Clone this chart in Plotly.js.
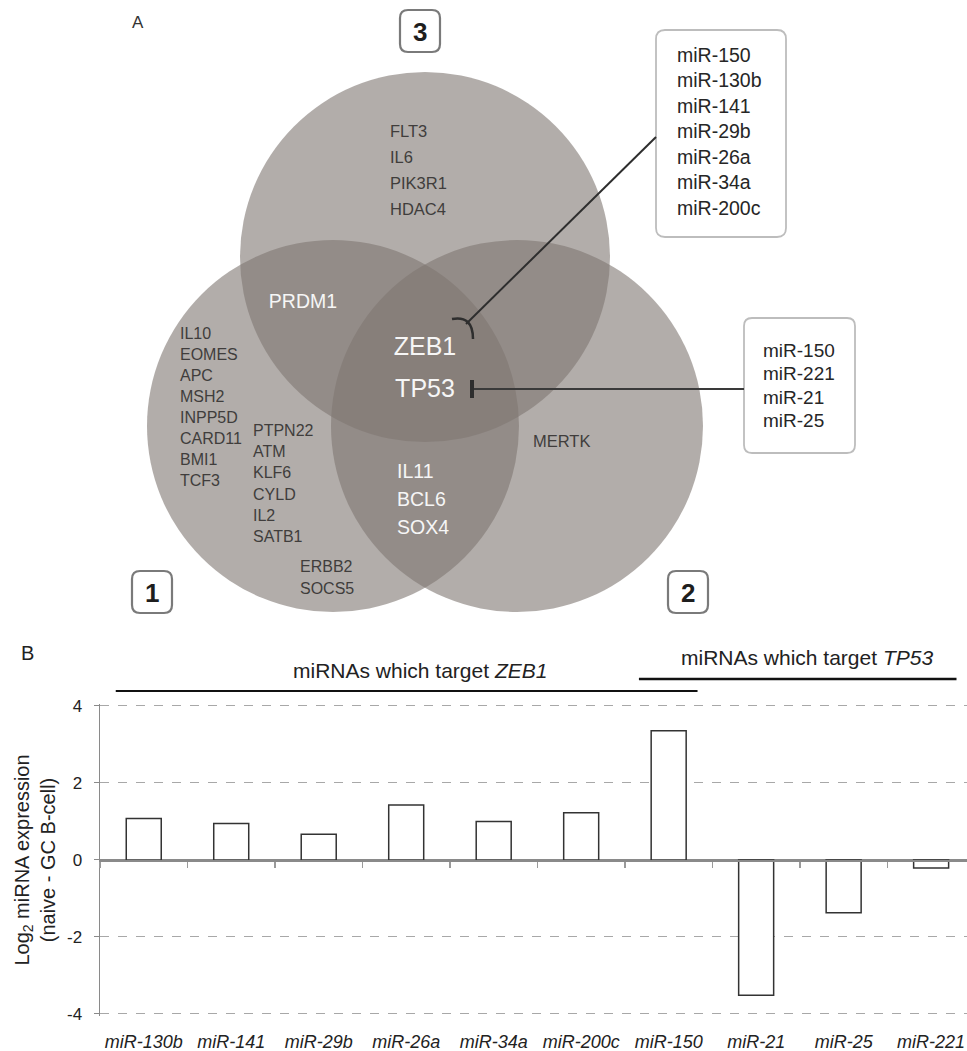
<!DOCTYPE html>
<html>
<head>
<meta charset="utf-8">
<script src="https://cdn.plot.ly/plotly-3.0.1.min.js"></script>
<style>html,body{margin:0;padding:0;background:#fff}#chart{width:967px;height:1051px}</style>
</head>
<body>
<div id="chart"></div>
<script>
// ---------- Data: panel B ----------
const mirnas = ["miR-130b","miR-141","miR-29b","miR-26a","miR-34a","miR-200c","miR-150","miR-21","miR-25","miR-221"];
const log2Expr = [1.08, 0.95, 0.67, 1.43, 1.00, 1.23, 3.36, -3.51, -1.37, -0.21];
const yTickVals = [-4, -2, 0, 2, 4];
const yTickText = ["-4", "-2", "0", "2", "4"];

// ---------- Data: panel A (Venn) ----------
const setLabels = ["1", "2", "3"];
const only3 = ["FLT3", "IL6", "PIK3R1", "HDAC4"];
const set1and3 = ["PRDM1"];
const only1a = ["IL10", "EOMES", "APC", "MSH2", "INPP5D", "CARD11", "BMI1", "TCF3"];
const only1b = ["PTPN22", "ATM", "KLF6", "CYLD", "IL2", "SATB1"];
const only1c = ["ERBB2", "SOCS5"];
const allThree = ["ZEB1", "TP53"];
const set1and2 = ["IL11", "BCL6", "SOX4"];
const only2 = ["MERTK"];
const zeb1Mirs = ["miR-150", "miR-130b", "miR-141", "miR-29b", "miR-26a", "miR-34a", "miR-200c"];
const tp53Mirs = ["miR-150", "miR-221", "miR-21", "miR-25"];

const FONT = "Liberation Sans, Arial, Helvetica, sans-serif";
const W = 967, H = 1051;
const dark = "#403d3c", light = "#f6f6f6";

// Venn gene label groups (layout positions in pixel space of the hidden Venn axes)
const groups = [
  {genes: only3,   x: 390, y: 133, dy: 26, pos: "middle right",  color: dark,  size: 16.5},
  {genes: set1and3,x: 303, y: 303, dy: 0,  pos: "middle center", color: light, size: 19.5},
  {genes: only1a,  x: 180, y: 335, dy: 21, pos: "middle right",  color: dark,  size: 16},
  {genes: only1b,  x: 253, y: 432, dy: 21.2, pos: "middle right", color: dark, size: 16},
  {genes: only1c,  x: 300, y: 568, dy: 21.5, pos: "middle right", color: dark, size: 16},
  {genes: allThree,x: 425, y: 349, dy: 42, pos: "middle center", color: light, size: 25},
  {genes: set1and2,x: 397, y: 473, dy: 28, pos: "middle right",  color: light, size: 19.5},
  {genes: only2,   x: 533, y: 443, dy: 0,  pos: "middle right",  color: dark,  size: 16.5},
  {genes: zeb1Mirs,x: 677, y: 57,  dy: 25.5, pos: "middle right", color: "#262626", size: 19.5},
  {genes: tp53Mirs,x: 763, y: 352, dy: 23.5, pos: "middle right", color: "#262626", size: 19}
];
const gx = [], gy = [], gt = [], gp = [], gc = [], gs = [];
groups.forEach(g => g.genes.forEach((name, i) => {
  gx.push(g.x); gy.push(g.y + i * g.dy); gt.push(name); gp.push(g.pos); gc.push(g.color); gs.push(g.size);
}));

function roundRect(x0, y0, x1, y1, r) {
  return `M ${x0 + r} ${y0} L ${x1 - r} ${y0} Q ${x1} ${y0} ${x1} ${y0 + r} L ${x1} ${y1 - r} Q ${x1} ${y1} ${x1 - r} ${y1} ` +
         `L ${x0 + r} ${y1} Q ${x0} ${y1} ${x0} ${y1 - r} L ${x0} ${y0 + r} Q ${x0} ${y0} ${x0 + r} ${y0} Z`;
}

// Bar plot geometry: 38.5 px per unit, zero at 860 px
const pad = 0.05;
const yRange = [-4 - pad, 4 + pad];
const pxPerUnit = 38.5, zeroPx = 860;
const yDom = [(H - (zeroPx + (4 + pad) * pxPerUnit)) / H, (H - (zeroPx - (4 + pad) * pxPerUnit)) / H];
const yMid = (yDom[0] + yDom[1]) / 2;
const xRange = [-0.5, 9.41];

const traces = [
  {
    type: "bar", x: mirnas, y: log2Expr, xaxis: "x", yaxis: "y", width: 0.4,
    marker: {color: "#ffffff", line: {color: "#333333", width: 1.5}},
    hoverinfo: "x+y", showlegend: false
  },
  {
    type: "scatter", x: mirnas, y: log2Expr, xaxis: "x2", yaxis: "y", mode: "none",
    hoverinfo: "skip", showlegend: false
  },
  {
    type: "scatter", x: gx, y: gy, text: gt, xaxis: "x3", yaxis: "y3", mode: "text",
    textposition: gp, textfont: {family: FONT, color: gc, size: gs},
    hoverinfo: "skip", showlegend: false, cliponaxis: false
  }
];

// Venn circles (pixel space of hidden axes)
const circ = [
  {cx: 333, cy: 426, r: 186},
  {cx: 517, cy: 426, r: 186},
  {cx: 425, cy: 257, r: 185}
];
const shapes = circ.map(c => ({
  type: "circle", xref: "x3", yref: "y3", layer: "below",
  x0: c.cx - c.r, x1: c.cx + c.r, y0: c.cy - c.r, y1: c.cy + c.r,
  fillcolor: "rgba(126,119,114,0.6)", line: {width: 0}
}));
// Set number boxes
const boxes = [{cx: 152, cy: 592}, {cx: 688, cy: 592}, {cx: 420, cy: 31}];
boxes.forEach(b => shapes.push({
  type: "path", xref: "x3", yref: "y3", path: roundRect(b.cx - 20, b.cy - 21, b.cx + 20, b.cy + 21, 8),
  line: {color: "#7a7a7a", width: 2.2}, fillcolor: "#ffffff"
}));
// Callout boxes
shapes.push({type: "path", xref: "x3", yref: "y3", path: roundRect(656, 30, 786, 237, 9),
  line: {color: "#bdbdbd", width: 1.8}, fillcolor: "rgba(255,255,255,0)"});
shapes.push({type: "path", xref: "x3", yref: "y3", path: roundRect(744, 318, 855, 453, 8),
  line: {color: "#bdbdbd", width: 1.8}, fillcolor: "rgba(255,255,255,0)"});
// Inhibition connectors
shapes.push({type: "line", xref: "x3", yref: "y3", x0: 656, y0: 137, x1: 466, y1: 324, line: {color: "#2e2e2e", width: 2}});
shapes.push({type: "path", xref: "x3", yref: "y3", path: "M 452 319 Q 473 315 473 339", line: {color: "#2e2e2e", width: 2.5}});
shapes.push({type: "line", xref: "x3", yref: "y3", x0: 744, y0: 389, x1: 472, y1: 389, line: {color: "#3a3a3a", width: 2}});
shapes.push({type: "line", xref: "x3", yref: "y3", x0: 472, y0: 380, x1: 472, y1: 398, line: {color: "#2e2e2e", width: 4}});
// Group bars above panel B
shapes.push({type: "line", xref: "x", yref: "paper", x0: -0.32, x1: 6.33, y0: (H - 691) / H, y1: (H - 691) / H, line: {color: "#111", width: 2}});
shapes.push({type: "line", xref: "x", yref: "paper", x0: 5.66, x1: 9.29, y0: (H - 679) / H, y1: (H - 679) / H, line: {color: "#111", width: 2.5}});

const annotations = [
  ...boxes.map((b, i) => ({
    xref: "x3", yref: "y3", x: b.cx, y: b.cy + 1, text: "<b>" + setLabels[i] + "</b>", showarrow: false,
    font: {family: FONT, size: 26, color: "#1e1e1e"}, xanchor: "center", yanchor: "middle"
  })),
  {xref: "x3", yref: "y3", x: 138, y: 22, text: "A", showarrow: false, font: {family: FONT, size: 17, color: "#333"}},
  {xref: "paper", yref: "paper", x: 19 / W, y: (H - 653) / H, text: "B", showarrow: false, font: {family: FONT, size: 20, color: "#222"}},
  {xref: "x", yref: "paper", x: 3.16, y: (H - 670) / H, text: "miRNAs which target <i>ZEB1</i>", showarrow: false,
   font: {family: FONT, size: 21, color: "#222"}, xanchor: "center", yanchor: "middle"},
  {xref: "x", yref: "paper", x: 7.58, y: (H - 657) / H, text: "miRNAs which target <i>TP53</i>", showarrow: false,
   font: {family: FONT, size: 21, color: "#222"}, xanchor: "center", yanchor: "middle"}
];

const layout = {
  width: W, height: H, margin: {l: 0, r: 0, t: 0, b: 0, autoexpand: false},
  paper_bgcolor: "#ffffff", plot_bgcolor: "rgba(0,0,0,0)", showlegend: false,
  font: {family: FONT, color: "#333"},
  xaxis: {
    domain: [100 / W, 1], anchor: "y", type: "category", range: xRange,
    showline: false, ticks: "", showgrid: false, zeroline: false,
    tickfont: {family: FONT, size: 18, style: "italic", color: "#222"}, ticklabelstandoff: 13
  },
  xaxis2: {
    overlaying: "x", anchor: "free", position: yMid, type: "category",
    categoryorder: "array", categoryarray: mirnas, range: xRange,
    showline: true, linecolor: "#8a8a8a", linewidth: 1.5, ticks: "outside", tickson: "boundaries",
    ticklen: 6, tickcolor: "#9a9a9a", tickwidth: 1.5, showticklabels: false, showgrid: false, zeroline: false
  },
  yaxis: {
    domain: yDom, anchor: "x", range: yRange, tickvals: yTickVals, ticktext: yTickText,
    showline: true, linecolor: "#8a8a8a", linewidth: 1.5, ticks: "outside", ticklen: 5, tickcolor: "#8a8a8a",
    showgrid: true, gridcolor: "#a8a8a8", griddash: "dash", gridwidth: 1,
    zeroline: true, zerolinecolor: "#8a8a8a", zerolinewidth: 1.5,
    tickfont: {family: FONT, size: 17, color: "#222"}, ticklabelstandoff: 8,
    title: {text: "Log<sub>2</sub> miRNA expression<br>(naive - GC B-cell)", font: {family: FONT, size: 20, color: "#222"}, standoff: 6}
  },
  xaxis3: {domain: [0, 1], anchor: "y3", range: [0, W], visible: false, fixedrange: true},
  yaxis3: {domain: [0, 1], anchor: "x3", range: [H, 0], visible: false, fixedrange: true},
  shapes: shapes,
  annotations: annotations
};

Plotly.newPlot("chart", traces, layout, {displayModeBar: false, staticPlot: true});
</script>
</body>
</html>
